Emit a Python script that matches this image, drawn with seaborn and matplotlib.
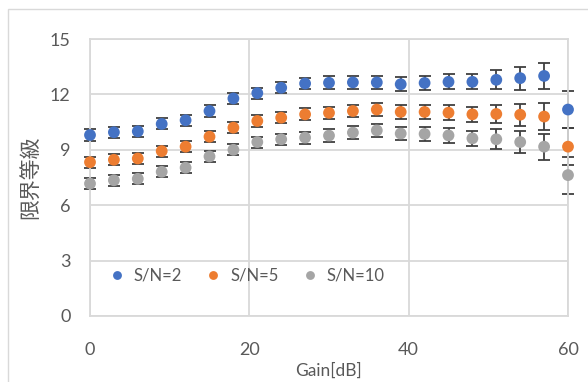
import matplotlib
matplotlib.use("Agg")
import matplotlib.pyplot as plt
import seaborn as sns
import pandas as pd
from matplotlib.patches import Rectangle

## gain values [dB]
gain = [0, 3, 6, 9, 12, 15, 18, 21, 24, 27, 30, 33, 36, 39, 42, 45, 48, 51, 54, 57, 60]

## mean threshold grade per S/N
sn2 = [9.8, 9.95, 10.0, 10.4, 10.6, 11.1, 11.78, 12.07, 12.36, 12.59, 12.63, 12.65, 12.65, 12.55,
       12.62, 12.68, 12.68, 12.79, 12.88, 13.0, 11.18]
sn5 = [8.33, 8.46, 8.53, 8.93, 9.17, 9.71, 10.2, 10.56, 10.74, 10.92, 11.0, 11.1, 11.18, 11.05,
       11.05, 11.01, 10.92, 10.94, 10.9, 10.8, 9.17]
sn10 = [7.17, 7.35, 7.43, 7.81, 8.03, 8.64, 9.0, 9.42, 9.57, 9.66, 9.77, 9.93, 10.05, 9.88,
        9.86, 9.78, 9.62, 9.57, 9.42, 9.17, 7.63]

## error bars
err2 = [0.3, 0.3, 0.3, 0.3, 0.3, 0.3, 0.3, 0.3, 0.3, 0.32, 0.34, 0.35, 0.37, 0.38,
        0.39, 0.41, 0.41, 0.51, 0.62, 0.70, 1.0]
err5 = [0.3, 0.3, 0.3, 0.3, 0.3, 0.3, 0.3, 0.3, 0.3, 0.32, 0.34, 0.35, 0.37, 0.38,
        0.39, 0.39, 0.4, 0.51, 0.59, 0.71, 1.0]
err10 = [0.3, 0.3, 0.3, 0.3, 0.3, 0.3, 0.3, 0.3, 0.3, 0.32, 0.34, 0.35, 0.36, 0.36,
         0.36, 0.4, 0.41, 0.53, 0.61, 0.71, 1.0]

labels = ["S/N=2", "S/N=5", "S/N=10"]
colors = ["#4472C4", "#ED7D31", "#A5A5A5"]

df = pd.concat([
    pd.DataFrame({"gain": gain, "grade": v, "err": e, "series": lab})
    for v, e, lab in zip([sn2, sn5, sn10], [err2, err5, err10], labels)
])

sns.set_style("white")
plt.rcParams["font.family"] = ["Lato", "Noto Sans CJK JP", "DejaVu Sans"]

fig = plt.figure(figsize=(5.88, 3.82), dpi=100)
ax = fig.add_axes([90 / 588, 66 / 382, 478 / 588, 277 / 382])

## chart area border (cut off on right / bottom)
fig.patches.append(Rectangle((8 / 588, -0.1), 1.2, (382 - 9) / 382 + 0.1,
                             transform=fig.transFigure, fill=False,
                             edgecolor="#D9D9D9", lw=1.0, zorder=0))

for lab, col in zip(labels, colors):
    d = df[df["series"] == lab]
    ax.errorbar(d["gain"], d["grade"], yerr=d["err"], fmt="none", ecolor="#404040",
                elinewidth=1.3, capsize=4, capthick=1.3, zorder=2, clip_on=False)

sns.scatterplot(data=df, x="gain", y="grade", hue="series", palette=colors,
                s=72, edgecolor="none", ax=ax, zorder=3, clip_on=False)

ax.set_xlim(0, 60)
ax.set_ylim(0, 15)
ax.set_xticks([0, 20, 40, 60])
ax.set_yticks([0, 3, 6, 9, 12, 15])
ax.grid(True, color="#D9D9D9", lw=1.3)
ax.set_axisbelow(True)
for s in ax.spines.values():
    s.set_color("#D9D9D9")
    s.set_linewidth(1.3)
ax.tick_params(axis="both", length=0, labelsize=13, labelcolor="#595959")
ax.tick_params(axis="x", pad=19)
ax.tick_params(axis="y", pad=14)

ax.set_xlabel("Gain[dB]", fontsize=12.5, color="#595959", labelpad=3)
ax.set_ylabel("限界等級", fontsize=15, color="#595959", labelpad=6)

ax.legend(loc="lower left", bbox_to_anchor=(0.0, 0.08), ncol=3, frameon=False,
          fontsize=12, labelcolor="#595959", handletextpad=0.0, columnspacing=0.9,
          markerscale=0.75, borderaxespad=0.2)

fig.savefig("out.png", dpi=100)
